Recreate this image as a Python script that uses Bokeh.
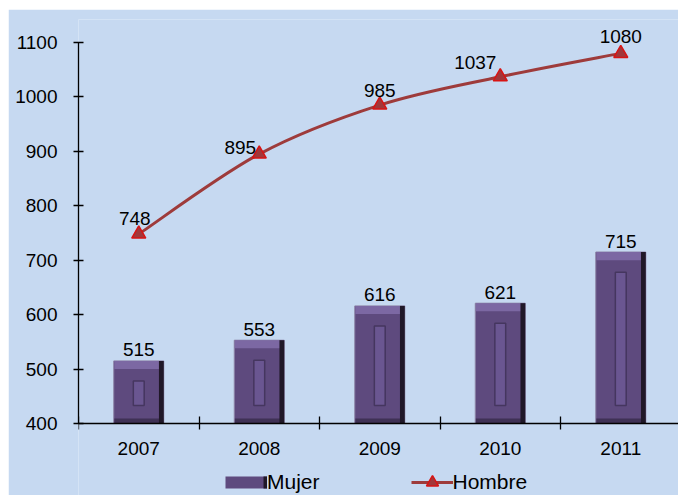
import numpy as np
from bokeh.plotting import figure
from bokeh.models import ColumnDataSource, FixedTicker, Range1d, Legend, LegendItem
from bokeh.core.properties import value
from bokeh.embed import file_html
from bokeh.resources import INLINE

# ---------------- data ----------------
years = ["2007", "2008", "2009", "2010", "2011"]
mujer = [515, 553, 616, 621, 715]
hombre = [748, 895, 985, 1037, 1080]
y_ticks = [400, 500, 600, 700, 800, 900, 1000, 1100]
series_names = ["Mujer", "Hombre"]

# label placement styling for the Hombre data labels (pixels, label centre vs marker)
hombre_label_dx = [-4, -19, 0, -25, 0]
hombre_label_dy = [-16, -7, -15, -14, -17]

FONT = "Liberation Sans"
FS = "19px"
BG = "#C6D9F1"
BAR = "#5E4A7E"
LINE = "#9E3B3B"
BASE = 400

n = len(years)
xc = np.arange(n) + 0.5
bar_w = 0.415

p = figure(width=670, height=486, output_backend="svg", toolbar_location=None,
           x_range=Range1d(0, 4.979), y_range=Range1d(267.7, 1142.2),
           min_border_left=70, min_border_right=0, min_border_top=10,
           min_border_bottom=0, margin=(9, 0, 0, 8))
p.background_fill_color = BG
p.border_fill_color = BG
p.outline_line_color = None
p.grid.visible = False

# ---------------- axes ----------------
xa = p.xaxis[0]
xa.fixed_location = BASE
xa.ticker = FixedTicker(ticks=[float(v) for v in xc], minor_ticks=[float(v) for v in range(n)])
xa.major_label_overrides = {float(v): y for v, y in zip(xc, years)}
xa.major_tick_in = 0
xa.major_tick_out = 0
xa.minor_tick_in = 7
xa.minor_tick_out = 6
xa.minor_tick_line_color = "black"
xa.minor_tick_line_width = 1.3
xa.axis_line_color = "black"
xa.axis_line_width = 1.3
xa.major_label_standoff = 13
xa.major_label_text_font = FONT
xa.major_label_text_font_size = FS
xa.major_label_text_color = "black"

ya = p.yaxis[0]
ya.bounds = (y_ticks[0], y_ticks[-1])
ya.ticker = FixedTicker(ticks=y_ticks)
ya.major_tick_in = 5
ya.major_tick_out = 5
ya.minor_tick_in = 0
ya.minor_tick_out = 0
ya.major_tick_line_color = "black"
ya.major_tick_line_width = 1.3
ya.axis_line_color = "black"
ya.axis_line_width = 1.3
ya.major_label_standoff = 16
ya.major_label_text_font = FONT
ya.major_label_text_font_size = FS
ya.major_label_text_color = "black"

# ---------------- bars (bevelled look) ----------------
m = np.array(mujer, dtype=float)
bsrc = ColumnDataSource(dict(
    x=xc, top=m, bottom=np.full(n, BASE, dtype=float),
    bev=m - 15, right_x=xc + bar_w / 2 - 0.02,
    low_top=np.full(n, BASE + 9, dtype=float),
    in_top=m - 37, in_bot=np.full(n, BASE + 33, dtype=float),
    label=[str(v) for v in mujer],
))
bars = p.vbar(x="x", top="top", bottom="bottom", width=bar_w, source=bsrc,
              fill_color=BAR, line_color="#8C84A6", line_width=1)
p.vbar(x="x", top="top", bottom="bev", width=bar_w - 0.01, source=bsrc,
       fill_color="#7C68A3", line_color=None)
p.vbar(x="x", top="low_top", bottom="bottom", width=bar_w - 0.01, source=bsrc,
       fill_color="#3F3155", line_color=None)
p.vbar(x="right_x", top="top", bottom="bottom", width=0.04, source=bsrc,
       fill_color="#201828", line_color=None)
p.vbar(x="x", top="in_top", bottom="in_bot", width=0.09, source=bsrc,
       fill_color="#6A5691", line_color="#45365F", line_width=1.5)
p.text(x="x", y="top", text="label", source=bsrc, y_offset=-11,
       text_align="center", text_baseline="middle",
       text_font=value(FONT), text_font_size=FS, text_color="black")

# ---------------- smoothed line ----------------
hy = np.array(hombre, dtype=float)
ex = np.concatenate([[xc[0]], xc, [xc[-1]]])
ey = np.concatenate([[hy[0]], hy, [hy[-1]]])
seg = dict(x0=[], y0=[], x1=[], y1=[], cx0=[], cy0=[], cx1=[], cy1=[])
for i in range(n - 1):
    seg["x0"].append(xc[i]); seg["y0"].append(hy[i])
    seg["x1"].append(xc[i + 1]); seg["y1"].append(hy[i + 1])
    seg["cx0"].append(xc[i] + (ex[i + 2] - ex[i]) / 6)
    seg["cy0"].append(hy[i] + (ey[i + 2] - ey[i]) / 6)
    seg["cx1"].append(xc[i + 1] - (ex[i + 3] - ex[i + 1]) / 6)
    seg["cy1"].append(hy[i + 1] - (ey[i + 3] - ey[i + 1]) / 6)
p.bezier(x0="x0", y0="y0", x1="x1", y1="y1", cx0="cx0", cy0="cy0",
         cx1="cx1", cy1="cy1", source=ColumnDataSource(seg),
         line_color=LINE, line_width=3)

hsrc = ColumnDataSource(dict(x=xc, y=hy, label=[str(v) for v in hombre],
                             dx=hombre_label_dx, dy=hombre_label_dy))
marks = p.scatter(x="x", y="y", source=hsrc, marker="triangle", size=14,
                  fill_color="#A2373A", line_color="#D81414", line_width=1.5)
p.text(x="x", y="y", text="label", source=hsrc, x_offset="dx", y_offset="dy",
       text_align="center", text_baseline="middle",
       text_font=value(FONT), text_font_size=FS, text_color="black")

# ---------------- legend ----------------
# single-point lines: draw nothing in the plot, only supply legend swatches
leg_bar = p.line(x=xc[:1], y=m[:1], line_color=BAR, line_width=12)
leg_bar_end = p.line(x=xc[:1], y=m[:1], line_color="#201828", line_width=12,
                     line_dash="0 38 4 60")
leg_line = p.line(x=xc[:1], y=hy[:1], line_color=LINE, line_width=3)
legend = Legend(items=[
    LegendItem(label=series_names[0], renderers=[leg_bar, leg_bar_end]),
    LegendItem(label=series_names[1], renderers=[leg_line, marks]),
], location=(147, -2), orientation="horizontal", glyph_width=42, glyph_height=30,
    label_standoff=0, spacing=91, padding=0, margin=0,
    background_fill_alpha=0, border_line_color=None,
    label_text_font=FONT, label_text_font_size="21px", label_text_color="black")
p.add_layout(legend)

open("out.html", "w").write(file_html(p, INLINE))
